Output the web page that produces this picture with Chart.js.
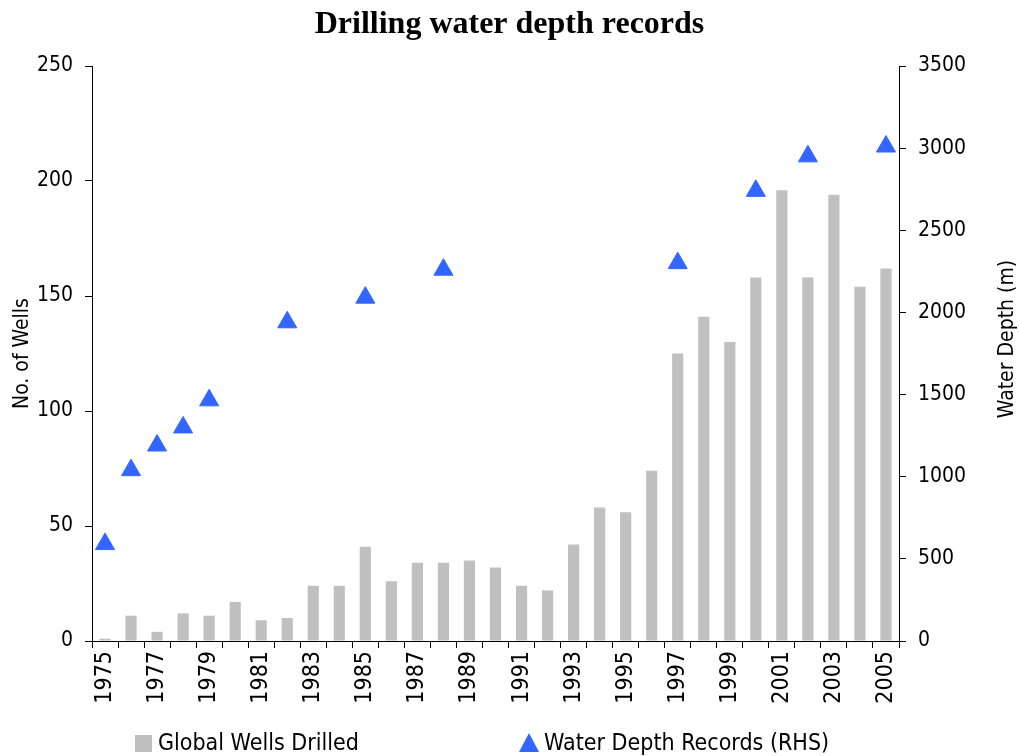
<!DOCTYPE html>
<html>
<head>
<meta charset="utf-8">
<style>
  html, body { margin: 0; padding: 0; background: #fff; }
  #wrap { width: 1019px; height: 756px; }
</style>
<script src="https://cdn.jsdelivr.net/npm/chart.js@4/dist/chart.umd.min.js"></script>
</head>
<body>
<div id="wrap"><canvas id="chart" width="1019" height="756"></canvas></div>
<script>
const years = ["1975", "1976", "1977", "1978", "1979", "1980", "1981", "1982", "1983", "1984",
  "1985", "1986", "1987", "1988", "1989", "1990", "1991", "1992", "1993", "1994",
  "1995", "1996", "1997", "1998", "1999", "2000", "2001", "2002", "2003", "2004", "2005"];

// wells drilled per year (left axis)
const wells = [1, 11, 4, 12, 11, 17, 9, 10, 24, 24,
  41, 26, 34, 34, 35, 32, 24, 22, 42, 58,
  56, 74, 125, 141, 130, 158, 196, 158, 194, 154, 162];

// water depth records in metres (right axis), only the record years
const depthRecords = [590, 1040, 1190, 1300, 1465, null, null, 1940, null, null,
  2090, null, null, 2260, null, null, null, null, null, null,
  null, null, 2300, null, null, 2740, null, 2950, null, null, 3010];

const narrow = "'Liberation Sans Narrow', 'Arial Narrow', 'DejaVu Sans Condensed', sans-serif";

// draws the bottom legend and the right axis title (reads bottom to top)
const extras = {
  id: "extras",
  afterDraw(chart) {
    const ctx = chart.ctx;
    const ds = chart.data.datasets;
    ctx.save();
    ctx.font = "23px " + narrow;
    ctx.textBaseline = "middle";

    // legend item 1: grey square
    ctx.fillStyle = ds[0].backgroundColor;
    ctx.fillRect(135, 735, 17, 17);
    ctx.fillStyle = "#000";
    ctx.textAlign = "left";
    ctx.fillText(ds[0].label, 158, 744);

    // legend item 2: blue triangle
    ctx.fillStyle = ds[1].backgroundColor;
    ctx.beginPath();
    ctx.moveTo(529, 733);
    ctx.lineTo(539, 752);
    ctx.lineTo(519, 752);
    ctx.closePath();
    ctx.fill();
    ctx.fillStyle = "#000";
    ctx.fillText(ds[1].label, 544, 744);

    // right axis title
    ctx.translate(1008, 339);
    ctx.rotate(-Math.PI / 2);
    ctx.textAlign = "center";
    ctx.font = "21px " + narrow;
    ctx.fillText("Water Depth (m)", 0, 0);
    ctx.restore();
  }
};

new Chart(document.getElementById("chart"), {
  type: "bar",
  plugins: [extras],
  data: {
    labels: years,
    datasets: [
      {
        type: "bar",
        label: "Global Wells Drilled",
        data: wells,
        backgroundColor: "#C0C0C0",
        categoryPercentage: 1,
        barPercentage: 0.43,
        yAxisID: "y",
        order: 2
      },
      {
        type: "line",
        label: "Water Depth Records (RHS)",
        data: depthRecords,
        showLine: false,
        pointStyle: "triangle",
        pointRadius: 11,
        pointHoverRadius: 11,
        backgroundColor: "#3366FF",
        borderColor: "#3366FF",
        borderWidth: 1,
        yAxisID: "y1",
        order: 1
      }
    ]
  },
  options: {
    responsive: false,
    animation: false,
    layout: { padding: { left: 0, right: 0, top: 0, bottom: 0 } },
    plugins: {
      legend: { display: false },
      tooltip: { enabled: false },
      title: {
        display: true,
        text: "Drilling water depth records",
        color: "#000",
        font: { family: "'Liberation Serif', 'Times New Roman', serif", size: 32, weight: "bold", lineHeight: 1.2 },
        padding: { top: 6, bottom: 21.6 }
      }
    },
    scales: {
      x: {
        offset: true,
        grid: { display: true, drawOnChartArea: false, offset: true, color: "#000", tickLength: 7, tickWidth: 1 },
        border: { display: true, color: "#000", width: 1 },
        ticks: {
          autoSkip: false,
          maxRotation: 90,
          minRotation: 90,
          padding: 3,
          color: "#000",
          font: { family: narrow, size: 23 },
          callback: function (val, i) { return i % 2 === 0 ? this.getLabelForValue(val) : ""; }
        },
        afterFit(scale) { scale.height = 115; }
      },
      y: {
        position: "left",
        min: 0,
        max: 250,
        grid: { display: true, drawOnChartArea: false, color: "#000", tickLength: 7 },
        border: { display: true, color: "#000", width: 1 },
        ticks: { stepSize: 50, padding: 12, color: "#000", font: { family: narrow, size: 21 } },
        title: {
          display: true,
          text: "No. of Wells",
          color: "#000",
          font: { family: narrow, size: 21, lineHeight: 1.2 },
          padding: { top: 10, bottom: 0 }
        },
        afterFit(scale) { scale.width = 92; }
      },
      y1: {
        position: "right",
        min: 0,
        max: 3500,
        grid: { display: true, drawOnChartArea: false, color: "#000", tickLength: 7 },
        border: { display: true, color: "#000", width: 1 },
        ticks: {
          stepSize: 500,
          padding: 12,
          color: "#000",
          font: { family: narrow, size: 21 },
          callback: (v) => String(v)
        },
        afterFit(scale) { scale.width = 120; }
      }
    }
  }
});
</script>
</body>
</html>
